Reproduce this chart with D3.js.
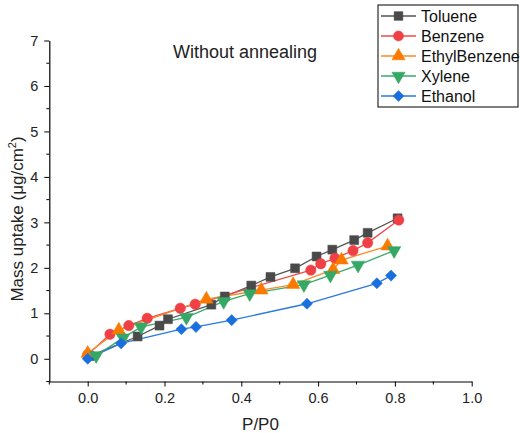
<!DOCTYPE html>
<html>
<head>
<meta charset="utf-8">
<script src="https://cdn.jsdelivr.net/npm/d3@7"></script>
<style>
  html, body { margin: 0; padding: 0; background: #fff; }
  svg { display: block; font-family: "Liberation Sans", Arial, sans-serif; }
</style>
</head>
<body>
<svg id="chart" width="520" height="433"></svg>
<script>
// Adsorption isotherms: mass uptake vs relative pressure P/P0
const seriesNames = ["Toluene", "Benzene", "EthylBenzene", "Xylene", "Ethanol"];

const tolueneP = [0.005, 0.13, 0.187, 0.209, 0.322, 0.357, 0.426, 0.476, 0.540, 0.596, 0.637, 0.694, 0.729, 0.807];
const tolueneM = [0.06, 0.49, 0.73, 0.87, 1.19, 1.37, 1.61, 1.80, 1.99, 2.25, 2.40, 2.61, 2.77, 3.09];

const benzeneP = [0.0, 0.058, 0.107, 0.155, 0.241, 0.28, 0.581, 0.607, 0.644, 0.691, 0.729, 0.810];
const benzeneM = [0.09, 0.54, 0.73, 0.89, 1.11, 1.20, 1.95, 2.09, 2.21, 2.38, 2.55, 3.05];

const ethylBenzeneP = [0.0, 0.081, 0.309, 0.452, 0.535, 0.639, 0.661, 0.781];
const ethylBenzeneM = [0.12, 0.63, 1.31, 1.51, 1.63, 1.96, 2.17, 2.48];

const xyleneP = [0.022, 0.092, 0.139, 0.257, 0.354, 0.422, 0.563, 0.632, 0.704, 0.798];
const xyleneM = [0.07, 0.46, 0.70, 0.91, 1.26, 1.43, 1.63, 1.84, 2.06, 2.38];

const ethanolP = [0.0, 0.087, 0.244, 0.282, 0.375, 0.571, 0.753, 0.790];
const ethanolM = [0.0, 0.34, 0.65, 0.70, 0.85, 1.21, 1.66, 1.83];

const xTickValues = [0.0, 0.2, 0.4, 0.6, 0.8, 1.0];
const yTickValues = [0, 1, 2, 3, 4, 5, 6, 7];

const titleText = "Without annealing";
const xLabel = "P/P0";

const series = [
  { name: seriesNames[0], p: tolueneP, m: tolueneM, line: "#555555", fill: "#4a4a4a", symbol: d3.symbolSquare, size: 80, rot: 0 },
  { name: seriesNames[1], p: benzeneP, m: benzeneM, line: "#f04a4a", fill: "#ef4045", symbol: d3.symbolCircle, size: 85, rot: 0 },
  { name: seriesNames[2], p: ethylBenzeneP, m: ethylBenzeneM, line: "#f98a2a", fill: "#fa7a00", symbol: d3.symbolTriangle, size: 80, rot: 0 },
  { name: seriesNames[3], p: xyleneP, m: xyleneM, line: "#3aa86a", fill: "#35a865", symbol: d3.symbolTriangle, size: 80, rot: 180 },
  { name: seriesNames[4], p: ethanolP, m: ethanolM, line: "#2a78e0", fill: "#1a6fdf", symbol: d3.symbolSquare, size: 62, rot: 45 }
];

const svg = d3.select("#chart");

const x = d3.scaleLinear().domain([-0.1, 1.0]).range([49.3, 471.7]);
const y = d3.scaleLinear().domain([-0.5, 7]).range([381.5, 40.5]);

// X axis with major and minor ticks
const xAxisG = svg.append("g").attr("transform", `translate(0,${y(-0.5)})`);
xAxisG.call(d3.axisBottom(x).tickValues(xTickValues).tickFormat(d3.format(".1f")).tickSizeInner(5).tickSizeOuter(0).tickPadding(6));
xAxisG.append("g").selectAll("line")
  .data(d3.range(-1, 11, 2).map(v => v / 10))
  .join("line")
  .attr("x1", d => x(d)).attr("x2", d => x(d))
  .attr("y1", 0).attr("y2", 3)
  .attr("stroke", "#000");

// Y axis with major and minor ticks
const yAxisG = svg.append("g").attr("transform", `translate(${x(-0.1)},0)`);
yAxisG.call(d3.axisLeft(y).tickValues(yTickValues).tickFormat(d3.format("d")).tickSizeInner(5).tickSizeOuter(0).tickPadding(6));
yAxisG.append("g").selectAll("line")
  .data(d3.range(-1, 14, 2).map(v => v / 2))
  .join("line")
  .attr("x1", 0).attr("x2", -3)
  .attr("y1", d => y(d)).attr("y2", d => y(d))
  .attr("stroke", "#000");

svg.selectAll(".domain").attr("stroke", "#000").attr("stroke-width", 1.2);
svg.selectAll(".tick line").attr("stroke", "#000");
svg.selectAll(".tick text").attr("font-size", 14.5).attr("fill", "#222")
  .attr("font-family", "'Liberation Sans', Arial, sans-serif");

// Axis titles
svg.append("text")
  .attr("x", (x(-0.1) + x(1.0)) / 2).attr("y", 430)
  .attr("text-anchor", "middle").attr("font-size", 17).attr("fill", "#222")
  .text(xLabel);

const yLab = svg.append("text")
  .attr("transform", `translate(23,${(y(-0.5) + y(7)) / 2 + 8}) rotate(-90)`)
  .attr("text-anchor", "middle").attr("font-size", 17).attr("fill", "#222");
yLab.append("tspan").text("Mass uptake (μg/cm");
yLab.append("tspan").attr("font-size", 11).attr("dy", -7).text("2");
yLab.append("tspan").attr("dy", 7).text(")");

// Title inside the plot
svg.append("text")
  .attr("x", 245).attr("y", 58)
  .attr("text-anchor", "middle").attr("font-size", 18).attr("fill", "#222")
  .text(titleText);

// Series lines and markers
const line = d3.line().x(d => x(d[0])).y(d => y(d[1]));

series.forEach(s => {
  const pts = s.p.map((p, i) => [p, s.m[i]]);
  svg.append("path")
    .attr("d", line(pts))
    .attr("fill", "none")
    .attr("stroke", s.line)
    .attr("stroke-width", 1.3);
});

series.forEach(s => {
  const pts = s.p.map((p, i) => [p, s.m[i]]);
  const sym = d3.symbol().type(s.symbol).size(s.size);
  svg.append("g").selectAll("path")
    .data(pts)
    .join("path")
    .attr("d", sym)
    .attr("transform", d => `translate(${x(d[0])},${y(d[1])}) rotate(${s.rot})`)
    .attr("fill", s.fill)
    .attr("stroke", s.fill)
    .attr("stroke-width", 0.5);
});

// Legend
const legend = svg.append("g");
legend.append("rect")
  .attr("x", 378).attr("y", 5).attr("width", 140).attr("height", 102)
  .attr("fill", "#fff").attr("stroke", "#000").attr("stroke-width", 1);

series.forEach((s, i) => {
  const ly = 16 + i * 20;
  legend.append("line")
    .attr("x1", 381).attr("x2", 416).attr("y1", ly).attr("y2", ly)
    .attr("stroke", s.line).attr("stroke-width", 1.3);
  legend.append("path")
    .attr("d", d3.symbol().type(s.symbol).size(s.size * 0.95)())
    .attr("transform", `translate(398.5,${ly}) rotate(${s.rot})`)
    .attr("fill", s.fill).attr("stroke", s.fill).attr("stroke-width", 0.5);
  legend.append("text")
    .attr("x", 421).attr("y", ly + 5.5)
    .attr("font-size", 16).attr("fill", "#111")
    .text(s.name);
});
</script>
</body>
</html>
